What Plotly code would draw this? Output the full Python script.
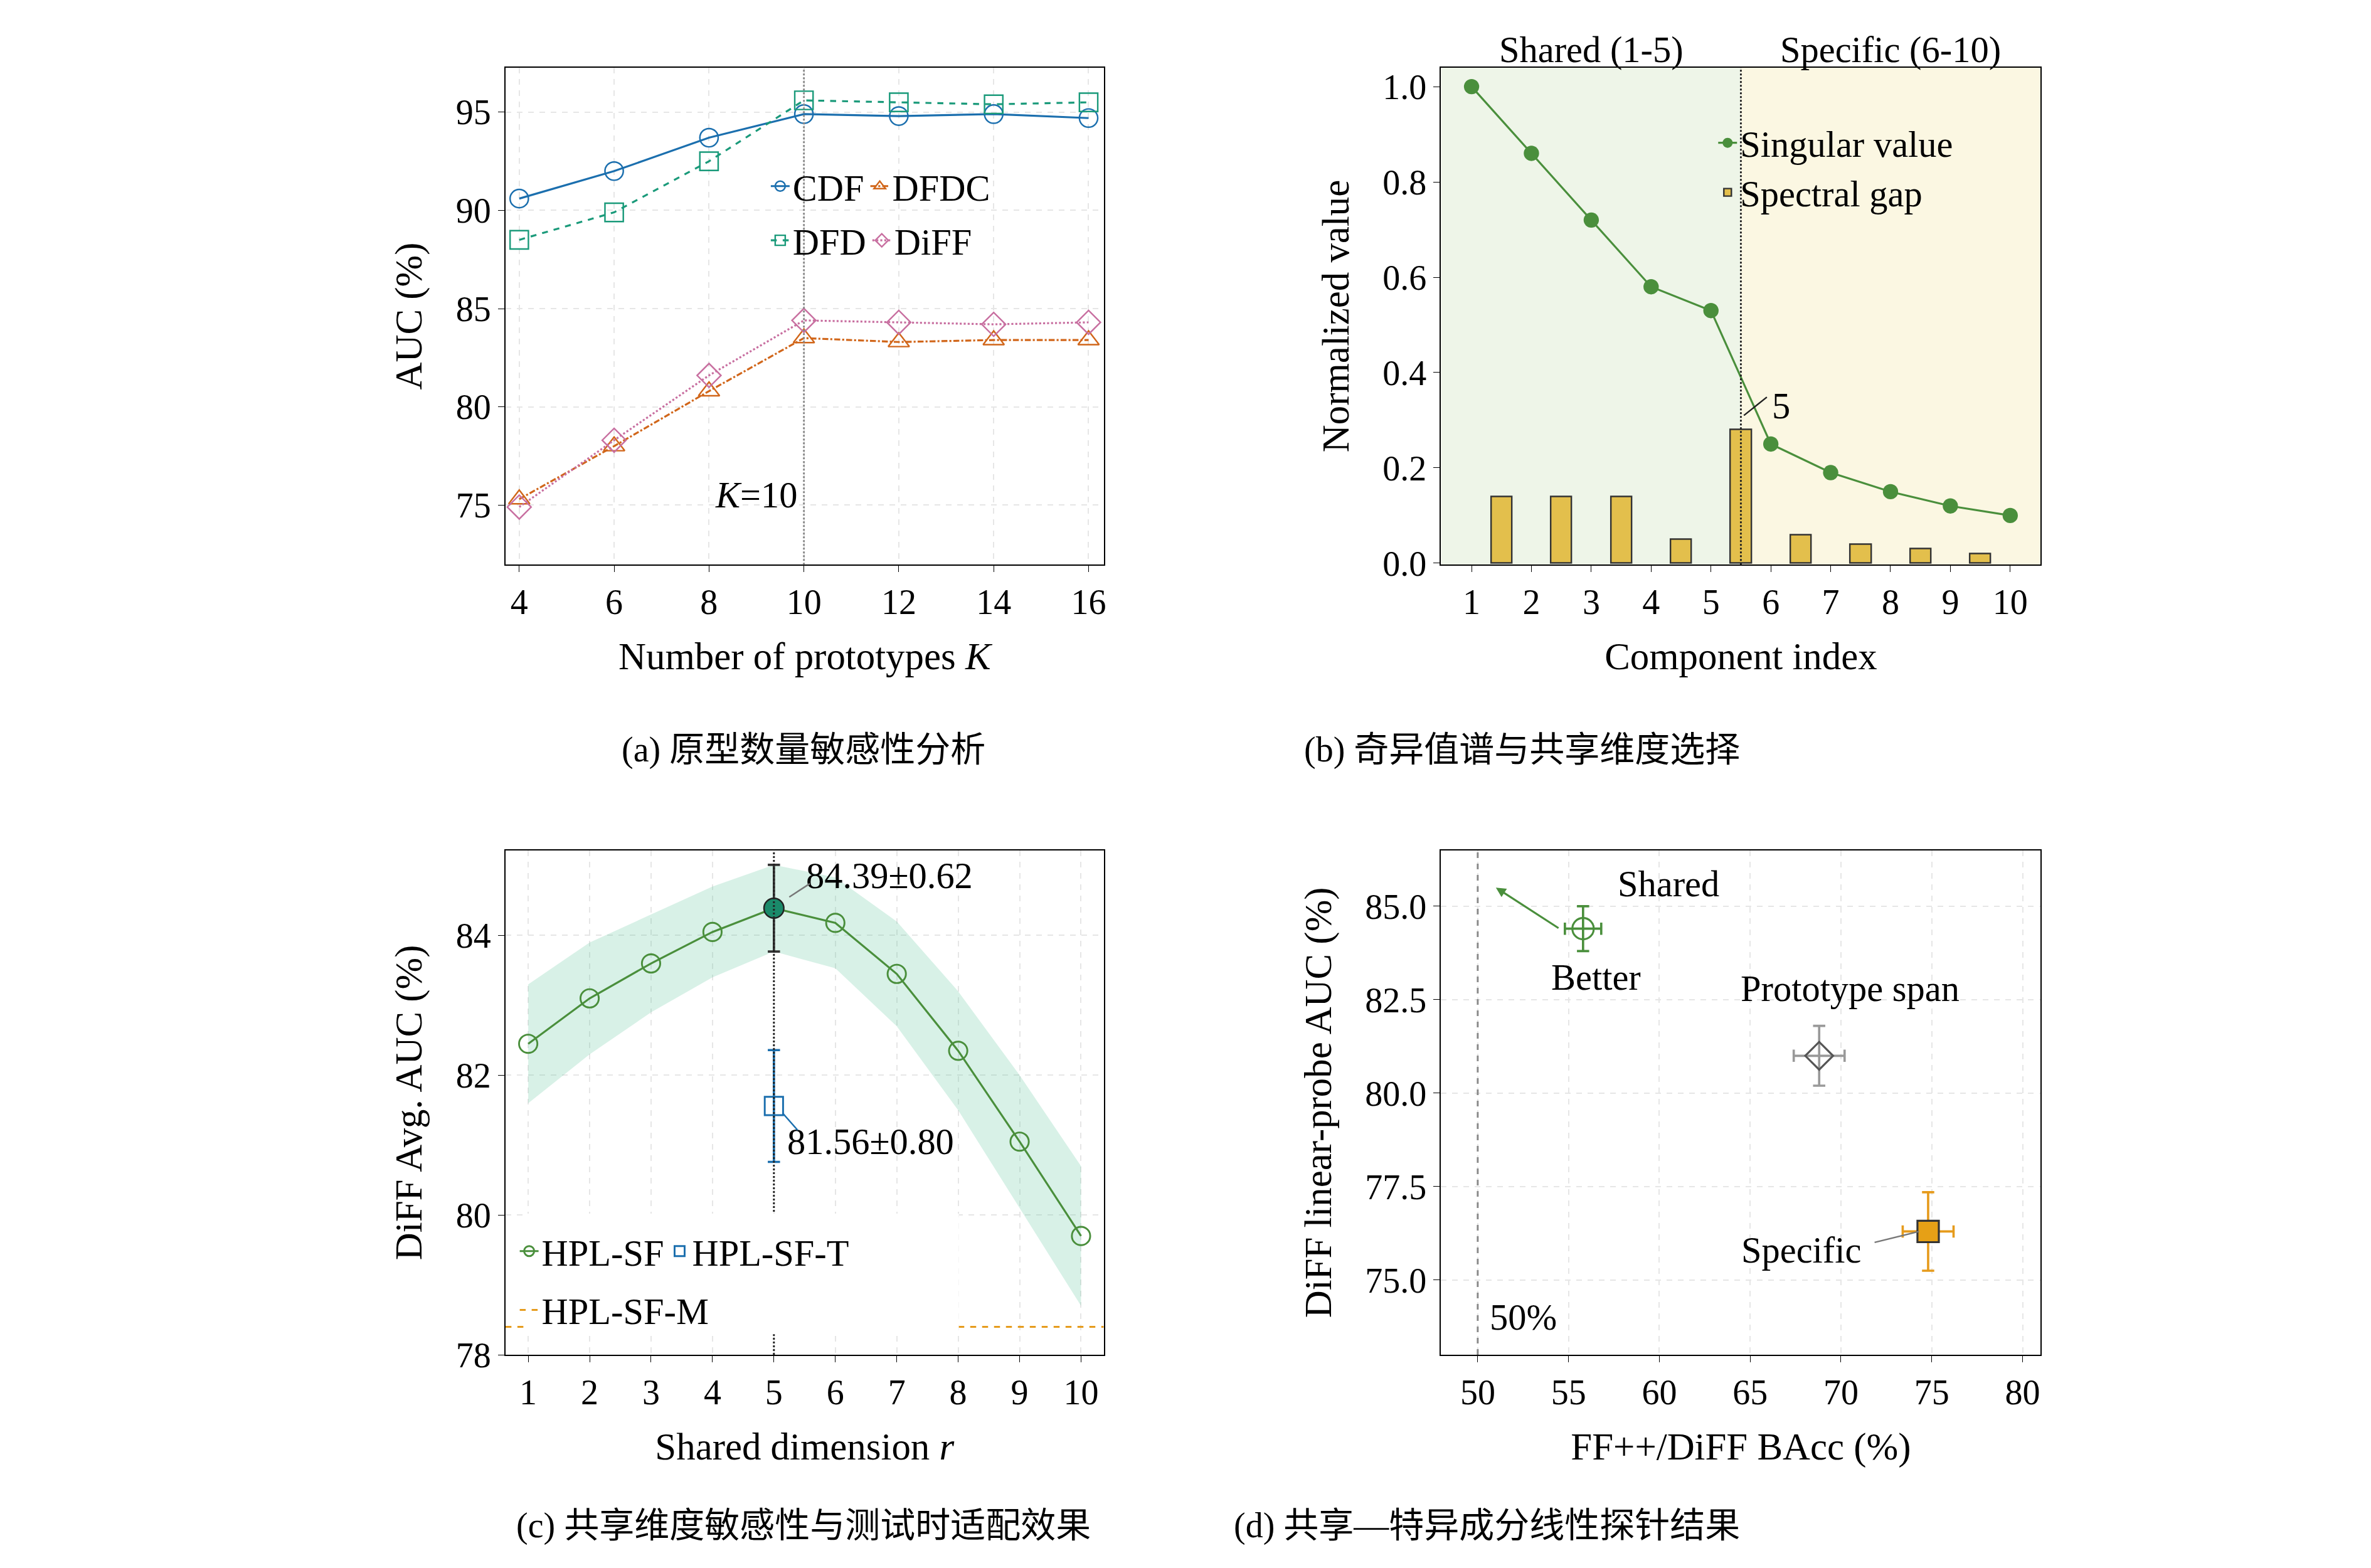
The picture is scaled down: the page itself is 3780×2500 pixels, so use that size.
import plotly.graph_objects as go

S = 3780/1552
def f(v): return v*S

# ---------- data ----------
K = [4, 6, 8, 10, 12, 14, 16]
auc_cdf = [90.6, 92.0, 93.7, 94.9, 94.8, 94.9, 94.7]
auc_dfd = [88.5, 89.9, 92.5, 95.6, 95.5, 95.4, 95.5]
auc_dfdc = [75.3, 78.0, 80.8, 83.5, 83.3, 83.4, 83.4]
auc_diff = [74.9, 78.3, 81.6, 84.4, 84.3, 84.2, 84.3]

comp = [1, 2, 3, 4, 5, 6, 7, 8, 9, 10]
singular = [1.0, 0.86, 0.72, 0.58, 0.53, 0.25, 0.19, 0.15, 0.12, 0.10]
gap_pos = [1.5, 2.5, 3.5, 4.5, 5.5, 6.5, 7.5, 8.5, 9.5]
gap_val = [0.14, 0.14, 0.14, 0.05, 0.28, 0.06, 0.04, 0.03, 0.02]

r = [1, 2, 3, 4, 5, 6, 7, 8, 9, 10]
hpl_sf = [82.45, 83.1, 83.6, 84.05, 84.39, 84.18, 83.45, 82.35, 81.05, 79.7]
hpl_sf_band = [0.85, 0.8, 0.7, 0.65, 0.62, 0.65, 0.75, 0.85, 0.95, 1.0]
sf_t_r, sf_t_mean, sf_t_std = 5, 81.56, 0.80
sf_best_mean, sf_best_std = 84.39, 0.62
sf_m = 78.4

probe_names = ["Shared", "Prototype span", "Specific"]
probe_bacc = [55.8, 68.8, 74.8]
probe_bacc_err = [1.0, 1.4, 1.4]
probe_auc = [84.4, 81.0, 76.3]
probe_auc_err = [0.6, 0.8, 1.05]

SERIF = "Liberation Serif"
CJK = "Liberation Serif, Noto Sans CJK SC"
TF = f(23)
LF = f(24)

fig = go.Figure()

# ---------- panel a ----------
styles = [("CDF", auc_cdf, "#1b6fae", "solid", "circle-open", "legend"),
          ("DFDC", auc_dfdc, "#d1661a", "dashdot", "triangle-up-open", "legend"),
          ("DFD", auc_dfd, "#1a9a7a", "dash", "square-open", "legend2"),
          ("DiFF", auc_diff, "#c86fa0", "dot", "diamond-open", "legend2")]
for name, y, c, d, m, lg in styles:
    fig.add_trace(go.Scatter(x=K, y=y, name=name, mode="lines+markers", xaxis="x", yaxis="y",
                             line=dict(color=c, dash=d, width=f(1.3)),
                             marker=dict(symbol=m, size=f(12), color=c, line=dict(width=f(1), color=c)),
                             legend=lg))

# ---------- panel b ----------
fig.add_trace(go.Bar(x=gap_pos, y=gap_val, name="Spectral gap", xaxis="x2", yaxis="y2", width=0.35,
                     marker=dict(color="#e3bf4c", line=dict(color="#333", width=f(1))), legend="legend3"))
fig.add_trace(go.Scatter(x=comp, y=singular, name="Singular value", mode="lines+markers", xaxis="x2", yaxis="y2",
                         line=dict(color="#4a8f3c", width=f(1.3)), marker=dict(size=f(10), color="#4a8f3c"),
                         legend="legend3"))

# ---------- panel c ----------
up = [m + b for m, b in zip(hpl_sf, hpl_sf_band)]
lo = [m - b for m, b in zip(hpl_sf, hpl_sf_band)]
fig.add_trace(go.Scatter(x=r + r[::-1], y=up + lo[::-1], fill="toself", fillcolor="rgba(100,200,160,0.25)",
                         line=dict(width=0), hoverinfo="skip", showlegend=False, xaxis="x3", yaxis="y3"))
fig.add_trace(go.Scatter(x=[0.63, 10.37], y=[sf_m, sf_m], mode="lines", name="HPL-SF-M", xaxis="x3", yaxis="y3",
                         line=dict(color="#e69b1c", dash="dash", width=f(1.3)), legend="legend5"))
fig.add_trace(go.Scatter(x=r, y=hpl_sf, name="HPL-SF", mode="lines+markers", xaxis="x3", yaxis="y3",
                         line=dict(color="#4a8f3c", width=f(1.3)),
                         marker=dict(symbol="circle-open", size=f(12), color="#4a8f3c", line=dict(width=f(1.2))),
                         legend="legend4"))
fig.add_trace(go.Scatter(x=[5], y=[sf_best_mean], mode="markers", showlegend=False, xaxis="x3", yaxis="y3",
                         error_y=dict(type="constant", value=sf_best_std, color="#333", thickness=f(1.5), width=f(4)),
                         marker=dict(size=f(13), color="#1a8a6a", line=dict(color="#222", width=f(1)))))
fig.add_trace(go.Scatter(x=[sf_t_r], y=[sf_t_mean], name="HPL-SF-T", mode="markers", xaxis="x3", yaxis="y3",
                         error_y=dict(type="constant", value=sf_t_std, color="#1b6fae", thickness=f(1.5), width=f(4)),
                         marker=dict(symbol="square-open", size=f(12), color="#1b6fae", line=dict(width=f(1.2))),
                         legend="legend4"))

# ---------- panel d ----------
pcol = ["#4a8f3c", "#555555", "#e69b1c"]
psym = ["circle-open", "diamond-open", "square"]
for i in range(3):
    fig.add_trace(go.Scatter(x=[probe_bacc[i]], y=[probe_auc[i]], mode="markers", showlegend=False,
                             xaxis="x4", yaxis="y4",
                             error_x=dict(type="constant", value=probe_bacc_err[i], color=pcol[i] if i != 1 else "#999",
                                          thickness=f(1.5), width=f(4)),
                             error_y=dict(type="constant", value=probe_auc_err[i], color=pcol[i] if i != 1 else "#999",
                                          thickness=f(1.5), width=f(4)),
                             marker=dict(symbol=psym[i], size=f(14), color=pcol[i] if i != 2 else "#e6a016",
                                         line=dict(width=f(1.3), color=pcol[i] if i != 2 else "#333"))))

ax = dict(showline=True, linecolor="black", linewidth=f(1), mirror=True, ticks="outside", ticklen=f(4),
          tickcolor="black", showgrid=True, gridcolor="#e6e6e6", griddash="dash", gridwidth=f(0.8),
          zeroline=False, tickfont=dict(family=SERIF, size=TF, color="black"),
          title_font=dict(family=SERIF, size=f(25), color="black"), title_standoff=f(14))
ya, yb = [0.6385, 0.9596], [0.128, 0.454]
xa, xb = [0.2113, 0.4639], [0.6063, 0.8595]

fig.update_layout(
    width=3780, height=2500, plot_bgcolor="white", paper_bgcolor="white", margin=dict(l=0, r=0, t=0, b=0),
    xaxis=dict(ax, domain=xa, anchor="y", range=[3.71, 16.32], tickvals=K, title_text="Number of prototypes <i>K</i>"),
    yaxis=dict(ax, domain=ya, anchor="x", range=[71.97, 97.27], tickvals=[75, 80, 85, 90, 95], title_text="AUC (%)"),
    xaxis2=dict(ax, domain=xb, anchor="y2", range=[0.49, 10.51], tickvals=comp, showgrid=False, title_text="Component index"),
    yaxis2=dict(ax, domain=ya, anchor="x2", range=[-0.003, 1.04], tickvals=[0, 0.2, 0.4, 0.6, 0.8, 1.0],
                tickformat=".1f", showgrid=False, title_text="Normalized value"),
    xaxis3=dict(ax, domain=xa, anchor="y3", range=[0.63, 10.37], tickvals=r, title_text="Shared dimension <i>r</i>"),
    yaxis3=dict(ax, domain=yb, anchor="x3", range=[78, 85.22], tickvals=[78, 80, 82, 84], title_text="DiFF Avg. AUC (%)"),
    xaxis4=dict(ax, domain=xb, anchor="y4", range=[47.98, 81.0], tickvals=[50, 55, 60, 65, 70, 75, 80], title_text="FF++/DiFF BAcc (%)"),
    yaxis4=dict(ax, domain=yb, anchor="x4", range=[73.0, 86.5], tickvals=[75, 77.5, 80, 82.5, 85],
                tickformat=".1f", title_text="DiFF linear-probe AUC (%)"),
    bargap=0,
)
lgf = dict(family=SERIF, size=LF, color="black")
fig.update_layout(
    legend=dict(x=0.322, y=0.883, xanchor="left", yanchor="middle", orientation="h", font=lgf, bgcolor="rgba(0,0,0,0)", itemwidth=30),
    legend2=dict(x=0.322, y=0.848, xanchor="left", yanchor="middle", orientation="h", font=lgf, bgcolor="rgba(0,0,0,0)", itemwidth=30),
    legend3=dict(x=0.722, y=0.895, xanchor="left", yanchor="middle", font=lgf, bgcolor="rgba(0,0,0,0)", traceorder="reversed"),
    legend4=dict(x=0.216, y=0.195, xanchor="left", yanchor="middle", orientation="h", font=lgf, bgcolor="rgba(0,0,0,0)", itemwidth=30),
    legend5=dict(x=0.216, y=0.157, xanchor="left", yanchor="middle", orientation="h", font=lgf, bgcolor="rgba(0,0,0,0)", itemwidth=30),
)

shapes = [
    dict(type="rect", xref="x2", yref="y2 domain", x0=0.49, x1=5.5, y0=0, y1=1, fillcolor="#eef5e8", line_width=0, layer="below"),
    dict(type="rect", xref="x2", yref="y2 domain", x0=5.5, x1=10.51, y0=0, y1=1, fillcolor="#fbf7e2", line_width=0, layer="below"),
    dict(type="line", xref="x2", yref="y2 domain", x0=5.5, x1=5.5, y0=0, y1=1, line=dict(color="#222", dash="dot", width=f(1.2))),
    dict(type="line", xref="x", yref="y domain", x0=10, x1=10, y0=0, y1=1, line=dict(color="#888", dash="dot", width=f(1.2))),
    dict(type="line", xref="x3", yref="y3 domain", x0=5, x1=5, y0=0, y1=1, line=dict(color="#222", dash="dot", width=f(1.2))),
    dict(type="line", xref="x4", yref="y4 domain", x0=50, x1=50, y0=0, y1=1, line=dict(color="#888", dash="dash", width=f(1.2))),
    # legend background box in panel c
    dict(type="rect", xref="paper", yref="paper", x0=340/1552, x1=625/1552, y0=1-893/1040, y1=1-812/1040,
         fillcolor="white", line_width=0, layer="above"),
]
fig.update_layout(shapes=shapes)

tf = dict(family=SERIF, size=f(24), color="black")
cf = dict(family=CJK, size=f(23), color="black")
ann = [
    dict(x=9.0, y=75.5, xref="x", yref="y", text="<i>K</i>=10", showarrow=False, font=tf, xanchor="center"),
    dict(x=3.0, y=0.985, xref="x2", yref="paper", text="Shared (1-5)", showarrow=False, font=tf),
    dict(x=8.0, y=0.985, xref="x2", yref="paper", text="Specific (6-10)", showarrow=False, font=tf),
    dict(x=6.0, y=0.33, xref="x2", yref="y2", text="5", showarrow=False, font=tf, xanchor="left"),
    dict(x=5.55, y=0.31, xref="x2", yref="y2", ax=5.95, ay=0.35, axref="x2", ayref="y2", text="", showarrow=True,
         arrowhead=0, arrowwidth=f(1), arrowcolor="#222"),
    dict(x=5.5, y=84.85, xref="x3", yref="y3", text="84.39±0.62", showarrow=False, font=tf, xanchor="left"),
    dict(x=5.25, y=84.55, xref="x3", yref="y3", ax=5.6, ay=84.75, axref="x3", ayref="y3", text="", showarrow=True,
         arrowhead=0, arrowwidth=f(1), arrowcolor="#777"),
    dict(x=5.2, y=81.05, xref="x3", yref="y3", text="81.56±0.80", showarrow=False, font=tf, xanchor="left"),
    dict(x=5.15, y=81.45, xref="x3", yref="y3", ax=5.4, ay=81.2, axref="x3", ayref="y3", text="", showarrow=True,
         arrowhead=0, arrowwidth=f(1), arrowcolor="#1b6fae"),
    dict(x=60.5, y=85.6, xref="x4", yref="y4", text="Shared", showarrow=False, font=tf),
    dict(x=56.5, y=83.1, xref="x4", yref="y4", text="Better", showarrow=False, font=tf),
    dict(x=51.0, y=85.5, xref="x4", yref="y4", ax=54.5, ay=84.4, axref="x4", ayref="y4", text="", showarrow=True,
         arrowhead=2, arrowsize=1, arrowwidth=f(1.3), arrowcolor="#4a8f3c"),
    dict(x=70.5, y=82.8, xref="x4", yref="y4", text="Prototype span", showarrow=False, font=tf),
    dict(x=67.8, y=75.8, xref="x4", yref="y4", text="Specific", showarrow=False, font=tf),
    dict(x=74.3, y=76.3, xref="x4", yref="y4", ax=71.8, ay=76.0, axref="x4", ayref="y4", text="", showarrow=True,
         arrowhead=0, arrowwidth=f(1), arrowcolor="#777"),
    dict(x=52.5, y=74.0, xref="x4", yref="y4", text="50%", showarrow=False, font=tf),
    dict(x=0.337, y=0.519, xref="paper", yref="paper", text="(a) 原型数量敏感性分析", showarrow=False, font=cf),
    dict(x=0.733, y=0.519, xref="paper", yref="paper", text="(b) 奇异值谱与共享维度选择", showarrow=False, font=cf),
    dict(x=0.337, y=0.004, xref="paper", yref="paper", text="(c) 共享维度敏感性与测试时适配效果", showarrow=False, font=cf, yanchor="bottom"),
    dict(x=0.733, y=0.004, xref="paper", yref="paper", text="(d) 共享—特异成分线性探针结果", showarrow=False, font=cf, yanchor="bottom"),
]
fig.update_layout(annotations=ann)
fig.write_html("out.html")
